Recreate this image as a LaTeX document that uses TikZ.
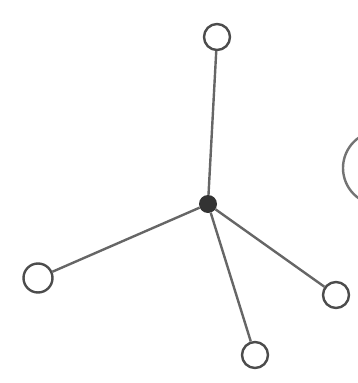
\documentclass[tikz,border=0pt]{standalone}
\begin{document}
\begin{tikzpicture}[x=1pt,y=-1pt,
  leaf/.style={circle,draw=black!70,line width=2.4pt,minimum size=26pt,inner sep=0pt,fill=white},
  hub/.style={circle,fill=black!80,minimum size=18pt,inner sep=0pt},
  edge/.style={draw=black!60,line width=2.4pt}]
\useasboundingbox (0,0) rectangle (358,383);
\clip (0,0) rectangle (358,383);
\node[hub] (c) at (208,204) {};
\node[leaf] (t) at (217,37) {};
\node[leaf,minimum size=29pt] (l) at (38,278) {};
\node[leaf] (r) at (336,295) {};
\node[leaf] (b) at (255,355) {};
\node[circle,draw=black!55,line width=2.4pt,minimum size=74pt,inner sep=0pt] (e) at (380,168) {};
\draw[edge] (c) -- (t);
\draw[edge] (c) -- (l);
\draw[edge] (c) -- (r);
\draw[edge] (c) -- (b);
\end{tikzpicture}
\end{document}
